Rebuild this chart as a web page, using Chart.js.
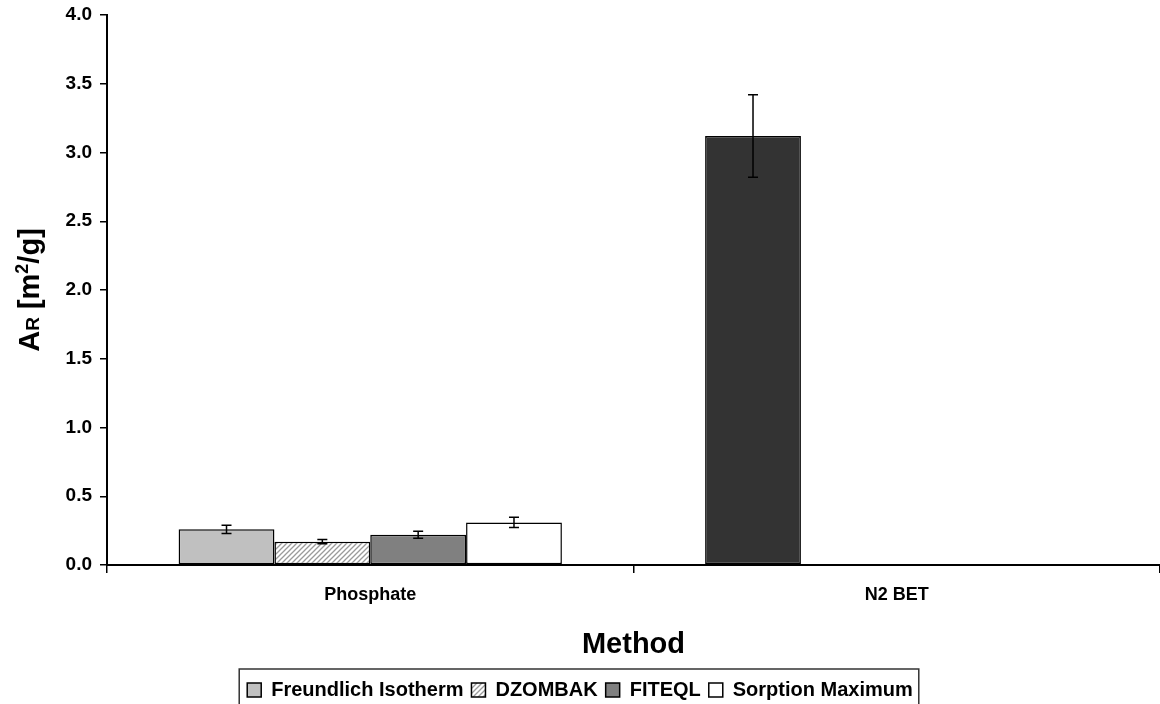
<!DOCTYPE html>
<html>
<head>
<meta charset="utf-8">
<script src="https://cdn.jsdelivr.net/npm/chart.js@4/dist/chart.umd.min.js"></script>
<style>
  html, body { margin: 0; padding: 0; background: #fff; }
  #wrap { width: 1160px; height: 704px; }
</style>
</head>
<body>
<div id="wrap"><canvas id="myBarChart"></canvas></div>
<script>
const categories = ['Phosphate', 'N2 BET'];

const freundlich = [0.26, 3.12];
const freundlichErr = [0.03, 0.30];
const dzombak = [0.17, null];
const dzombakErr = [0.015, null];
const fiteql = [0.22, null];
const fiteqlErr = [0.025, null];
const sorptionMax = [0.31, null];
const sorptionMaxErr = [0.037, null];

const yTicks = [0, 0.5, 1, 1.5, 2, 2.5, 3, 3.5, 4];

const fontFamily = "'Liberation Sans', Arial, sans-serif";

function makeHatch() {
	const c = document.createElement('canvas');
	c.width = 5;
	c.height = 5;
	const g = c.getContext('2d');
	g.fillStyle = '#ffffff';
	g.fillRect(0, 0, 5, 5);
	g.strokeStyle = '#9a9a9a';
	g.lineWidth = 1.3;
	g.beginPath();
	g.moveTo(-1, 6); g.lineTo(6, -1);
	g.moveTo(-1, 1); g.lineTo(1, -1);
	g.moveTo(4, 6); g.lineTo(6, 4);
	g.stroke();
	return g.createPattern(c, 'repeat');
}

// error bars drawn through the chart's own scales
const errorBars = {
	id: 'errorBars',
	afterDatasetsDraw(chart) {
		const ctx = chart.ctx;
		const y = chart.scales.y;
		ctx.save();
		ctx.strokeStyle = '#000';
		ctx.lineWidth = 1.5;
		chart.data.datasets.forEach((ds, i) => {
			const meta = chart.getDatasetMeta(i);
			meta.data.forEach((bar, j) => {
				const v = ds.data[j];
				const e = ds.errors[j];
				if (v == null || e == null) return;
				const top = y.getPixelForValue(v + e);
				const bot = y.getPixelForValue(v - e);
				ctx.beginPath();
				ctx.moveTo(bar.x, top); ctx.lineTo(bar.x, bot);
				ctx.moveTo(bar.x - 5, top); ctx.lineTo(bar.x + 5, top);
				ctx.moveTo(bar.x - 5, bot); ctx.lineTo(bar.x + 5, bot);
				ctx.stroke();
			});
		});
		ctx.restore();
	}
};

// y title with subscript / superscript, and the box round the legend
const decorations = {
	id: 'decorations',
	afterLayout(chart) {
		// push the legend a little lower, like the original
		chart.legend.top += 6;
		chart.legend.bottom += 6;
	},
	afterDraw(chart) {
		const ctx = chart.ctx;
		ctx.save();
		const parts = [
			{t: 'A', size: 29, dy: 0},
			{t: 'R', size: 19, dy: 0},
			{t: ' [m', size: 29, dy: 0},
			{t: '2', size: 18, dy: -11},
			{t: '/g]', size: 29, dy: 0}
		];
		let total = 0;
		parts.forEach(p => {
			ctx.font = 'bold ' + p.size + 'px ' + fontFamily;
			p.w = ctx.measureText(p.t).width;
			total += p.w;
		});
		ctx.translate(29, 290);
		ctx.rotate(-Math.PI / 2);
		ctx.fillStyle = '#000';
		ctx.textBaseline = 'alphabetic';
		let x = -total / 2;
		parts.forEach(p => {
			ctx.font = 'bold ' + p.size + 'px ' + fontFamily;
			ctx.fillText(p.t, x, 10 + p.dy);
			x += p.w;
		});
		ctx.restore();

		const boxes = chart.legend.legendHitBoxes;
		if (boxes && boxes.length) {
			const first = boxes[0];
			const last = boxes[boxes.length - 1];
			ctx.save();
			ctx.strokeStyle = '#333';
			ctx.lineWidth = 1.5;
			ctx.strokeRect(first.left - 8, 669, last.left + last.width - first.left + 14, 60);
			ctx.restore();
		}
	}
};

function setupBarChart() {
	Chart.defaults.font.family = fontFamily;
	Chart.defaults.color = '#000';

	const ctx = document.getElementById('myBarChart').getContext('2d');
	const hatch = makeHatch();

	new Chart(ctx, {
		type: 'bar',
		data: {
			labels: categories,
			datasets: [
				{
					label: 'Freundlich Isotherm',
					data: freundlich,
					errors: freundlichErr,
					backgroundColor: (c) => c.dataIndex === 1 ? '#333333' : '#c0c0c0'
				},
				{
					label: 'DZOMBAK',
					data: dzombak,
					errors: dzombakErr,
					backgroundColor: hatch
				},
				{
					label: 'FITEQL',
					data: fiteql,
					errors: fiteqlErr,
					backgroundColor: '#808080'
				},
				{
					label: 'Sorption Maximum',
					data: sorptionMax,
					errors: sorptionMaxErr,
					backgroundColor: '#ffffff'
				}
			]
		},
		options: {
			responsive: true,
			maintainAspectRatio: false,
			animation: false,
			datasets: {
				bar: {
					categoryPercentage: 0.728,
					barPercentage: 1.0,
					borderColor: '#000',
					borderWidth: 1.5,
					borderSkipped: false
				}
			},
			layout: {
				padding: {left: 0, right: 0, top: 15, bottom: 0}
			},
			scales: {
				x: {
					grid: {
						offset: true,
						drawOnChartArea: false,
						drawTicks: true,
						tickLength: 8,
						color: '#000',
						tickColor: (c) => c.index >= 2 ? 'rgba(0,0,0,0)' : '#000',
						lineWidth: 1.5
					},
					border: {display: true, color: '#000', width: 2},
					ticks: {
						font: {size: 18, weight: 'bold'},
						color: '#000',
						padding: 11
					},
					title: {
						display: true,
						text: 'Method',
						font: {size: 29, weight: 'bold'},
						color: '#000',
						padding: {top: 0, bottom: 4}
					},
					afterFit(scale) {
						scale.height = 704 - 565 - scale.chart.legend.height;
					}
				},
				y: {
					min: 0,
					max: 4,
					afterBuildTicks(scale) {
						scale.ticks = yTicks.map(v => ({value: v}));
					},
					grid: {
						drawOnChartArea: false,
						drawTicks: true,
						tickLength: 7,
						color: '#000',
						lineWidth: 1.5
					},
					border: {display: true, color: '#000', width: 2},
					ticks: {
						font: {size: 19, weight: 'bold'},
						color: '#000',
						padding: 8,
						callback: (v) => Number(v).toFixed(1)
					},
					afterFit(scale) {
						scale.width = 107;
						scale.paddingTop = 0;
						scale.paddingBottom = 0;
					}
				}
			},
			plugins: {
				legend: {
					display: true,
					position: 'bottom',
					labels: {
						boxWidth: 14,
						boxHeight: 14,
						padding: 8,
						color: '#000',
						font: {size: 20, weight: 'bold'}
					}
				},
				tooltip: {enabled: false}
			}
		},
		plugins: [errorBars, decorations]
	});
}

setupBarChart();
</script>
</body>
</html>
